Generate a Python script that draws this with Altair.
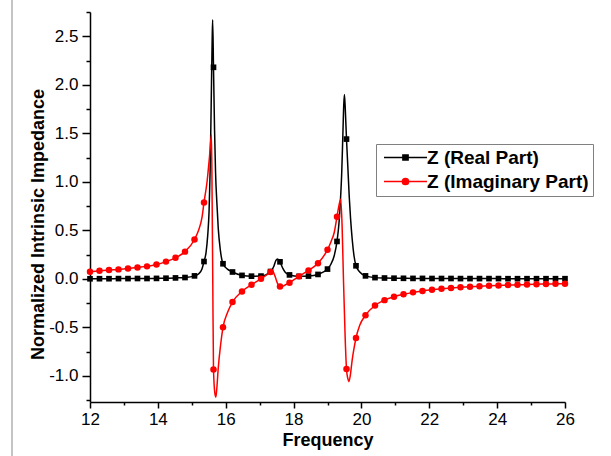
import altair as alt
import pandas as pd

# Frequencies at which the sampled points (markers) are shown
MARKER_X = [12.00, 12.28, 12.56, 12.84, 13.12, 13.40, 13.68, 13.96, 14.24, 14.52,
            14.80, 15.08, 15.36, 15.64, 15.92, 16.20, 16.48, 16.76, 17.04, 17.32,
            17.60, 17.88, 18.16, 18.44, 18.72, 19.00, 19.28, 19.56, 19.84, 20.12,
            20.40, 20.68, 20.96, 21.24, 21.52, 21.80, 22.08, 22.36, 22.64, 22.92,
            23.20, 23.48, 23.76, 24.04, 24.32, 24.60, 24.88, 25.16, 25.44, 25.72,
            26.00]

# Real part of Z at the marker frequencies
REAL_AT_MARKERS = [0.000, 0.001, 0.001, 0.002, 0.002, 0.003, 0.003, 0.004, 0.006, 0.009,
                   0.013, 0.030, 0.178, 2.180, 0.155, 0.070, 0.035, 0.027, 0.028, 0.075,
                   0.175, 0.040, 0.025, 0.028, 0.045, 0.100, 0.385, 1.440, 0.134, 0.030,
                   0.012, 0.008, 0.006, 0.005, 0.004, 0.004, 0.003, 0.003, 0.003, 0.002,
                   0.002, 0.002, 0.002, 0.002, 0.001, 0.001, 0.001, 0.001, 0.001, 0.001,
                   0.001]

# Imaginary part of Z at the marker frequencies
IMAG_AT_MARKERS = [0.072, 0.082, 0.090, 0.097, 0.106, 0.117, 0.128, 0.147, 0.177, 0.216,
                   0.280, 0.405, 0.787, -0.935, -0.500, -0.240, -0.130, -0.062, 0.000, 0.070,
                   -0.080, -0.040, 0.025, 0.086, 0.160, 0.300, 0.640, -0.930, -0.610, -0.375,
                   -0.275, -0.220, -0.185, -0.160, -0.140, -0.125, -0.113, -0.103, -0.095, -0.088,
                   -0.082, -0.077, -0.072, -0.068, -0.065, -0.062, -0.059, -0.056, -0.054, -0.052,
                   -0.050]

# Additional samples of the continuous curves around the resonances
REAL_EXTRA_X = [15.20, 15.30, 15.42, 15.47, 15.51, 15.54, 15.57, 15.60, 15.615, 15.67,
                15.70, 15.74, 15.78, 15.84, 16.05,
                17.42, 17.48, 17.53, 17.68, 17.76,
                19.10, 19.20, 19.34, 19.38, 19.42, 19.45, 19.48, 19.50, 19.53, 19.60,
                19.64, 19.68, 19.73, 19.78, 19.95]
REAL_EXTRA_Y = [0.050, 0.100, 0.270, 0.450, 0.700, 1.100, 1.750, 2.450, 2.670, 1.550,
                1.100, 0.780, 0.520, 0.300, 0.100,
                0.130, 0.190, 0.205, 0.110, 0.065,
                0.150, 0.240, 0.580, 0.800, 1.100, 1.450, 1.800, 1.900, 1.700, 1.150,
                0.850, 0.620, 0.400, 0.240, 0.070]

IMAG_EXTRA_X = [15.20, 15.30, 15.45, 15.52, 15.58, 15.60, 15.62, 15.68, 15.71, 15.74,
                15.78, 15.85, 16.05,
                17.37, 17.45, 17.53, 17.63, 17.72,
                19.10, 19.20, 19.34, 19.39, 19.43, 19.47, 19.52, 19.60, 19.63, 19.67,
                19.73, 19.78, 19.95]
IMAG_EXTRA_Y = [0.500, 0.630, 1.000, 1.250, 1.485, 0.800, -0.100, -1.180, -1.220, -1.120,
                -0.920, -0.680, -0.350,
                0.085, 0.030, -0.050, -0.086, -0.070,
                0.380, 0.480, 0.760, 0.820, 0.550, 0.000, -0.600, -1.030, -1.060, -1.000,
                -0.830, -0.720, -0.480]

SERIES = ["Z (Real Part)", "Z (Imaginary Part)"]
X_TICKS = [12, 13, 14, 15, 16, 17, 18, 19, 20, 21, 22, 23, 24, 25, 26]
Y_TICKS = [-1.25, -1.0, -0.75, -0.5, -0.25, 0.0, 0.25, 0.5, 0.75, 1.0,
           1.25, 1.5, 1.75, 2.0, 2.25, 2.5, 2.75]

real_marks = pd.DataFrame({"f": MARKER_X, "z": REAL_AT_MARKERS})
imag_marks = pd.DataFrame({"f": MARKER_X, "z": IMAG_AT_MARKERS})
real_curve = pd.concat([real_marks, pd.DataFrame({"f": REAL_EXTRA_X, "z": REAL_EXTRA_Y})]).sort_values("f")
imag_curve = pd.concat([imag_marks, pd.DataFrame({"f": IMAG_EXTRA_X, "z": IMAG_EXTRA_Y})]).sort_values("f")

FONT = "Liberation Sans"

x_axis = alt.Axis(
    values=X_TICKS,
    labelExpr="datum.value % 2 === 0 ? datum.label : ''",
    tickSize={"condition": {"test": "datum.value % 2 === 0", "value": 6}, "value": 3},
    grid=False, domainColor="black", tickColor="black", domainWidth=1.5, tickWidth=1.5,
    labelFont=FONT, labelFontSize=17, labelColor="black", labelPadding=3,
    labelOverlap=False, labelFlush=False,
    titleFont=FONT, titleFontSize=18, titleFontWeight="bold", titleColor="black",
    titlePadding=4,
)
y_axis = alt.Axis(
    values=Y_TICKS,
    format=".1f",
    labelExpr="datum.value % 0.5 === 0 ? replace(datum.label, '\u2212', '-') : ''",
    tickSize={"condition": {"test": "datum.value % 0.5 === 0", "value": 8}, "value": 4},
    grid=False, domainColor="black", tickColor="black", domainWidth=1.5, tickWidth=1.5,
    labelFont=FONT, labelFontSize=17, labelColor="black", labelPadding=4,
    labelOverlap=False, labelFlush=False,
    titleFont=FONT, titleFontSize=18, titleFontWeight="bold", titleColor="black",
    titleAngle=270, titleAlign="center", titleBaseline="middle", titleX=-52, titleY=212,
)

x_enc = alt.X("f:Q", title="Frequency",
              scale=alt.Scale(domain=[12, 26], nice=False, zero=False), axis=x_axis)
y_enc = alt.Y("z:Q", title="Normalized Intrinsic Impedance",
              scale=alt.Scale(domain=[-1.27, 2.75], nice=False, zero=False), axis=y_axis)

real_line = alt.Chart(real_curve).mark_line(
    color="black", strokeWidth=1.5, interpolate="monotone").encode(x=x_enc, y=y_enc)
real_pts = alt.Chart(real_marks).mark_point(
    shape="square", filled=True, color="black", size=32, opacity=1).encode(x=x_enc, y=y_enc)
imag_line = alt.Chart(imag_curve).mark_line(
    color="red", strokeWidth=1.5, interpolate="monotone").encode(x=x_enc, y=y_enc)
imag_pts = alt.Chart(imag_marks).mark_point(
    shape="circle", filled=True, color="red", size=42, opacity=1).encode(x=x_enc, y=y_enc)

# Legend symbols: a short line segment with the series marker in the middle
SQUARE_GLYPH = "M-4.3,0H4.3M-0.52,-0.52H0.52V0.52H-0.52Z"
CIRCLE_GLYPH = "M-4.3,0H4.3M0.62,0A0.62,0.62,0,1,1,-0.62,0A0.62,0.62,0,1,1,0.62,0Z"

legend = alt.Legend(
    orient="none", legendX=286, legendY=132, title=None,
    labelFont=FONT, labelFontSize=19, labelFontWeight="bold", labelColor="black",
    labelLimit=400, symbolSize=100, symbolStrokeWidth=1.5,
    symbolOffset=16, labelOffset=12, padding=4, rowPadding=4,
    strokeColor="#808080", fillColor="white",
)
legend_layer = alt.Chart(pd.DataFrame({"series": SERIES})).transform_filter("false").mark_point(
    filled=True, strokeWidth=1.5, opacity=1
).encode(
    fill=alt.Fill("series:N", scale=alt.Scale(domain=SERIES, range=["black", "red"]), legend=legend),
    stroke=alt.Stroke("series:N", scale=alt.Scale(domain=SERIES, range=["black", "red"]), legend=legend),
    shape=alt.Shape("series:N", scale=alt.Scale(domain=SERIES, range=[SQUARE_GLYPH, CIRCLE_GLYPH]), legend=legend),
)

# Thin grey page edge on the left
edge = alt.Chart(pd.DataFrame({"edge": [0]})).mark_rule(color="#c4c4c4", strokeWidth=2).encode(
    x=alt.value(-78), y=alt.value(-12), y2=alt.value(444))

chart = alt.layer(edge, real_line, real_pts, imag_line, imag_pts, legend_layer).properties(
    width=475, height=390,
    autosize=alt.AutoSizeParams(type="none"),
    padding={"left": 90, "top": 12, "right": 46, "bottom": 54},
    background="white",
).configure_view(stroke=None)

chart.save("out.html", embed_options={"renderer": "svg", "actions": False})
